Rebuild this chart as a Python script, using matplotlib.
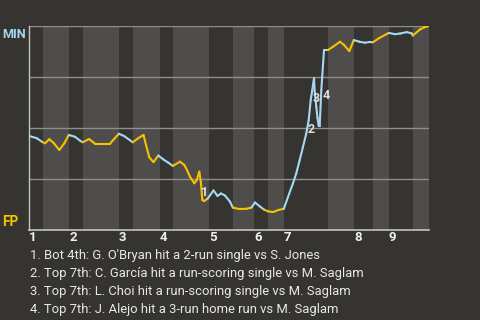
import numpy as np
import matplotlib
matplotlib.use("Agg")
import matplotlib.pyplot as plt
from matplotlib.collections import LineCollection

# ---- data ----
# half-inning boundaries in game-progress units (top1, bot1, top2, ...)
half_bounds = [0, 14.5, 40.5, 54.5, 90.5, 104.5, 131.5, 144.5, 180.5, 204.5,
               225.5, 239.5, 255.5, 299.5, 325.5, 344.5, 360.5, 384.5, 400.5]
innings = ["1", "2", "3", "4", "5", "6", "7", "8", "9"]

# MIN win probability (%) over game progress
prog = [0, 8.2, 14.0, 16.5, 20.8, 25.5, 30.8, 35.8, 40.3, 46.5, 51.5, 54.3,
        60.5, 66.5, 81.5, 90.3, 95.5, 104.3, 109.8, 115.0, 117.5, 120.8, 125.0,
        129.8, 134.8, 139.8, 144.3, 151.5, 155.8, 158.5, 161.5, 165.8, 168.2,
        170.8, 172.5, 173.8, 175.8, 179.2, 185.0, 189.0, 192.5, 196.5, 201.5,
        204.3, 210.5, 218.0, 223.0, 226.5, 231.5, 235.5, 239.8, 244.8, 249.8,
        255.3, 259.5, 264.5, 267.8, 271.2, 274.5, 277.8, 280.2, 282.2, 283.8,
        285.5, 286.2, 287.8, 289.0, 290.2, 291.2, 292.8, 294.5, 295.5, 299.3,
        304.8, 311.5, 315.5, 320.8, 325.3, 330.8, 336.5, 341.5, 344.3, 350.8,
        358.2, 360.3, 366.5, 371.5, 378.2, 383.2, 384.3, 391.5, 395.5, 400.5]
wp = [46.2, 45.0, 43.1, 42.5, 44.5, 42.5, 39.2, 42.5, 46.6, 45.7, 43.8, 43.0,
      44.6, 42.3, 42.3, 47.2, 46.1, 43.0, 45.0, 46.6, 41.7, 35.6, 33.3,
      36.5, 34.6, 33.0, 31.4, 33.5, 31.9, 29.4, 26.1, 22.9, 24.5,
      28.6, 22.9, 14.7, 14.2, 15.4, 19.4, 16.7, 17.9, 16.9, 13.9,
      11.0, 10.3, 10.4, 11.0, 13.5, 11.5, 10.0, 9.1, 8.8, 9.8,
      10.4, 16.2, 22.9, 27.8, 34.3, 40.8, 47.4, 53.9, 63.7, 68.6,
      74.4, 67.8, 60.4, 54.9, 51.0, 51.0, 68.6, 80.9, 88.2, 88.2,
      89.9, 92.3, 90.7, 87.7, 93.1, 92.3, 91.8, 92.2, 92.0, 94.1,
      96.1, 96.6, 96.0, 96.3, 97.0, 96.4, 95.3, 98.3, 99.3, 100.0]

event_ids = ["1", "2", "3", "4"]
event_x = [176.5, 282.5, 287.5, 297.5]
event_y = [18.6, 49.5, 64.7, 65.7]
event_text = [
    "1. Bot 4th: G. O'Bryan hit a 2-run single vs S. Jones",
    "2. Top 7th: C. García hit a run-scoring single vs M. Saglam",
    "3. Top 7th: L. Choi hit a run-scoring single vs M. Saglam",
    "4. Top 7th: J. Alejo hit a 3-run home run vs M. Saglam",
]
team_top = "MIN"
team_bottom = "FP"

# ---- style ----
BG = "#363430"
BAND = "#4e4d4b"
BLUE = "#a6d8f2"
YELLOW = "#f7c200"
GRID = "#8f8e8b"
AXLINE = "#c4c4c2"
FONT = ["Roboto", "DejaVu Sans"]
plt.rcParams["font.family"] = FONT

fig = plt.figure(figsize=(4.8, 3.2), dpi=100, facecolor=BG)
ax = fig.add_axes([28.5 / 480, 90 / 320, 400.5 / 480, 204 / 320])
ax.set_facecolor(BG)
ax.set_xlim(half_bounds[0], half_bounds[-1])
ax.set_ylim(0, 100)

# bands for bottom halves
for i in range(1, len(half_bounds) - 1, 2):
    ax.axvspan(half_bounds[i], half_bounds[i + 1], color=BAND, lw=0, zorder=0)

for gy in [25, 50, 75, 100]:
    ax.axhline(gy, color=GRID, lw=1.0, zorder=1)

# line segments colored by half inning
x = np.array(prog)
y = np.array(wp)
idx = np.clip(np.searchsorted(half_bounds, x, side="right") - 1, 0, len(half_bounds) - 2)
segs = [[(x[i - 1], y[i - 1]), (x[i], y[i])] for i in range(1, len(x))]
cols = [BLUE if idx[i] % 2 == 0 else YELLOW for i in range(1, len(x))]
lc = LineCollection(segs, colors=cols, linewidths=1.5, zorder=3, capstyle="round", joinstyle="round")
ax.add_collection(lc)

for eid, ex, ey in zip(event_ids, event_x, event_y):
    ax.text(ex, ey, eid, color="#e0e0e0", fontsize=9, fontweight="bold",
            ha="center", va="center", zorder=4)

for s in ["top", "right"]:
    ax.spines[s].set_visible(False)
ax.spines["left"].set_color(AXLINE)
ax.spines["bottom"].set_color(AXLINE)
ax.spines["left"].set_linewidth(1.0)
ax.spines["bottom"].set_linewidth(1.2)

ax.set_yticks([])
ax.set_xticks(half_bounds[0:-1:2])
ax.set_xticklabels(innings, color="#f0f0f0", fontsize=9.5, fontweight="bold", ha="left")
ax.tick_params(axis="x", length=0, pad=1.0)

fig.text(2 / 480, 1 - 38.3 / 320, team_top, color=BLUE, fontsize=9.2, fontweight="bold",
         ha="left", va="baseline")
fig.text(2 / 480, 1 - 226 / 320, team_bottom, color=YELLOW, fontsize=9.8, fontweight="bold",
         ha="left", va="baseline")

for k, t in enumerate(event_text):
    fig.text(30 / 480, 1 - (259.5 + 17.75 * k) / 320, t, color="#e8e8e8", fontsize=9.4,
             ha="left", va="baseline")

fig.savefig("out.png", dpi=100, facecolor=BG)
